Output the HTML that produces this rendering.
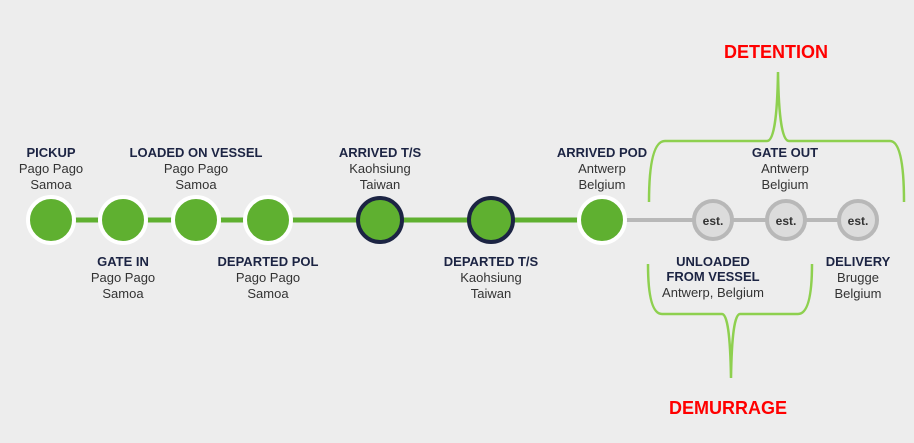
<!DOCTYPE html>
<html><head><meta charset="utf-8"><style>
body{margin:0;width:914px;height:443px;background:#ededed;overflow:hidden;font-family:"Liberation Sans",Arial,sans-serif}
svg{display:block}
.t{font-weight:bold;fill:#1c2443;font-size:13px}
.s{fill:#333;font-size:13px}
.e{font-weight:bold;fill:#333;font-size:12px}
.r{font-weight:bold;fill:#f00;font-size:18px}
</style></head><body>
<svg width="914" height="443" viewBox="0 0 914 443">
<line x1="51" y1="220" x2="602" y2="220" stroke="#5fb030" stroke-width="5"/>
<line x1="602" y1="220" x2="858" y2="220" stroke="#b8b8b8" stroke-width="4"/>
<g fill="#5fb030" stroke="#fff" stroke-width="4">
<circle cx="51" cy="220" r="23"/><circle cx="123" cy="220" r="23"/><circle cx="196" cy="220" r="23"/><circle cx="268" cy="220" r="23"/><circle cx="602" cy="220" r="23"/>
</g>
<g fill="#5fb030" stroke="#1c2443" stroke-width="4">
<circle cx="380" cy="220" r="22"/><circle cx="491" cy="220" r="22"/>
</g>
<g fill="#dcdcdc" stroke="#b8b8b8" stroke-width="4">
<circle cx="713" cy="220" r="19"/><circle cx="786" cy="220" r="19"/><circle cx="858" cy="220" r="19"/>
</g>
<g text-anchor="middle">
<text class="e" x="713" y="225">est.</text><text class="e" x="786" y="225">est.</text><text class="e" x="858" y="225">est.</text>
<text class="t" x="51" y="157">PICKUP</text><text class="s" x="51" y="173">Pago Pago</text><text class="s" x="51" y="189">Samoa</text>
<text class="t" x="196" y="157">LOADED ON VESSEL</text><text class="s" x="196" y="173">Pago Pago</text><text class="s" x="196" y="189">Samoa</text>
<text class="t" x="380" y="157">ARRIVED T/S</text><text class="s" x="380" y="173">Kaohsiung</text><text class="s" x="380" y="189">Taiwan</text>
<text class="t" x="602" y="157">ARRIVED POD</text><text class="s" x="602" y="173">Antwerp</text><text class="s" x="602" y="189">Belgium</text>
<text class="t" x="785" y="157">GATE OUT</text><text class="s" x="785" y="173">Antwerp</text><text class="s" x="785" y="189">Belgium</text>
<text class="t" x="123" y="266">GATE IN</text><text class="s" x="123" y="282">Pago Pago</text><text class="s" x="123" y="298">Samoa</text>
<text class="t" x="268" y="266">DEPARTED POL</text><text class="s" x="268" y="282">Pago Pago</text><text class="s" x="268" y="298">Samoa</text>
<text class="t" x="491" y="266">DEPARTED T/S</text><text class="s" x="491" y="282">Kaohsiung</text><text class="s" x="491" y="298">Taiwan</text>
<text class="t" x="713" y="266">UNLOADED</text><text class="t" x="713" y="281">FROM VESSEL</text><text class="s" x="713" y="297">Antwerp, Belgium</text>
<text class="t" x="858" y="266">DELIVERY</text><text class="s" x="858" y="282">Brugge</text><text class="s" x="858" y="298">Belgium</text>
<text class="r" x="776" y="58">DETENTION</text>
<text class="r" x="728" y="414">DEMURRAGE</text>
</g>
<g fill="none" stroke="#8ed04f" stroke-width="2.5">
<path d="M649 202 Q649 141 665 141 L767 141 Q777 141 778 72 Q779 141 789 141 L890 141 Q904 141 904 202"/>
<path d="M648 264 Q648 314 662 314 L722 314 Q730 314 731 378 Q732 314 740 314 L798 314 Q812 314 812 264"/>
</g>
</svg>
</body></html>
